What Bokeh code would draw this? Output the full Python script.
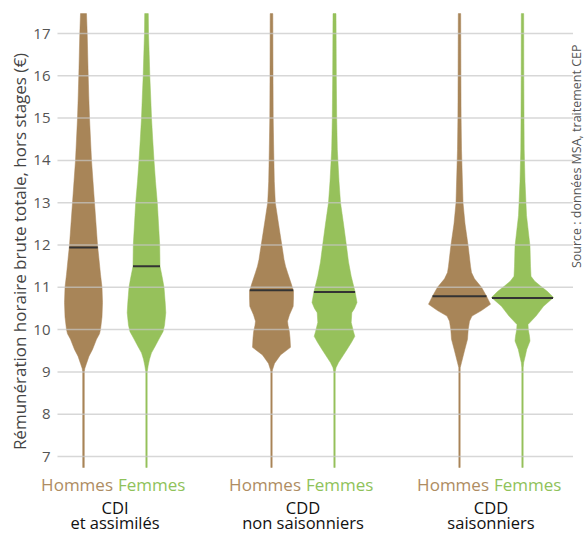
import numpy as np
from math import pi
from bokeh.plotting import figure
from bokeh.models import Range1d
from bokeh.core.properties import value
from bokeh.embed import file_html
from bokeh.resources import INLINE

# ---------------- data ----------------
group_line1 = ["CDI", "CDD", "CDD"]
group_line2 = ["et assimilés", "non saisonniers", "saisonniers"]
sexes = ["Hommes", "Femmes"]

medians_h = [11.94, 10.93, 10.79]
medians_f = [11.50, 10.89, 10.75]

# density profiles: wage levels (€) and relative density (half-width)
cdi_h_y = [6.74, 9.0, 9.08, 9.2, 9.37, 9.53, 9.77, 9.9, 10.0, 10.3, 10.64, 11.0, 11.3, 11.66, 12.0,
           12.5, 13.0, 13.5, 14.0, 14.5, 15.0, 15.5, 16.0, 16.5, 17.0, 17.47]
cdi_h_d = [0.8, 0.8, 1.3, 3, 5.5, 9, 13, 16, 17, 18.5, 19, 18.5, 17, 15.5, 14,
           12.5, 11, 9.5, 8, 7, 6, 5.3, 4.7, 4.2, 3.7, 3.0]

cdi_f_y = [6.74, 9.0, 9.15, 9.3, 9.45, 9.6, 9.8, 9.95, 10.1, 10.4, 10.64, 11.0, 11.2, 11.5, 12.0,
           12.5, 13.0, 13.5, 14.0, 14.5, 15.0, 15.5, 16.0, 16.5, 17.0, 17.47]
cdi_f_d = [0.7, 0.7, 1.7, 3, 5, 8.5, 13, 16.5, 18, 19.3, 18.7, 17.5, 16, 13.5, 13.2,
           12, 10.8, 9, 7.5, 6.2, 5, 4.2, 3.3, 2.7, 2.0, 1.8]

cddns_h_y = [6.74, 9.0, 9.05, 9.2, 9.4, 9.58, 9.8, 9.96, 10.1, 10.2, 10.35, 10.55, 10.75, 10.91,
             11.1, 11.35, 11.5, 11.66, 11.97, 12.5, 13.0, 13.5, 14.26, 15.0, 16.0, 17.47]
cddns_h_d = [0.7, 0.7, 1.0, 3, 9, 19, 18.5, 17.8, 16.5, 16, 18, 21.7, 22, 22,
             19.5, 16, 14, 12.5, 10.5, 7, 3.8, 2.8, 2.2, 1.7, 1.5, 1.3]

cddns_f_y = [6.74, 9.0, 9.1, 9.22, 9.53, 9.7, 9.84, 9.95, 10.17, 10.4, 10.5, 10.64, 10.88, 11.26,
             11.6, 11.97, 12.5, 13.0, 13.5, 14.26, 15.0, 16.0, 17.47]
cddns_f_d = [0.7, 0.7, 1.5, 4, 12.5, 17, 20.3, 19, 16.7, 17.3, 20, 22.5, 20.7, 16.7,
             14, 12, 9, 6, 4.5, 2.8, 2.2, 1.8, 1.5]

cdds_h_y = [6.74, 9.1, 9.22, 9.53, 9.77, 10.0, 10.2, 10.32, 10.45, 10.6, 10.79, 11.0, 11.2, 11.35,
            11.5, 11.97, 12.5, 13.0, 14.26, 15.0, 16.0, 17.47]
cdds_h_d = [0.7, 0.7, 2, 5.3, 8, 8.7, 10, 12.5, 22, 31, 27, 22, 15, 12,
            11, 8.7, 5.5, 3.5, 2, 1.6, 1.4, 1.2]

cdds_f_y = [6.74, 9.1, 9.22, 9.4, 9.53, 9.73, 9.84, 10.0, 10.12, 10.32, 10.55, 10.76, 10.9, 11.03,
            11.15, 11.26, 11.5, 11.97, 12.7, 13.5, 14.26, 15.0, 16.0, 17.47]
cdds_f_d = [0.7, 0.7, 1.2, 3, 4.2, 7.5, 7, 5.8, 5.5, 13.5, 21, 31, 25, 18,
            12, 8.5, 8, 7.5, 4, 2.5, 1.7, 1.5, 1.3, 1.2]

y_ticks = [7, 8, 9, 10, 11, 12, 13, 14, 15, 16, 17]
y_title = "Rémunération horaire brute totale, hors stages (€)"
source = "Source : données MSA, traitement CEP"

# ---------------- layout / styling ----------------
W, H = 586, 534
PX_X = 188.0            # pixels per group
PX_Y = 42.3             # pixels per euro
X0 = -114.5 / PX_X      # left edge of canvas in data units
Y_TOP = 17 + 33 / PX_Y  # top edge of canvas in data units
Y_AXIS_MIN = 6.74
X_GRID_L = -57.5 / PX_X
X_GRID_R = 458.0 / PX_X

COL_H = "#A88558"
COL_F = "#96C15B"
TXT_H = "#AE8C62"
TXT_F = "#8FC25A"
FONT = value("Open Sans")
DENS_SCALE = 1 / PX_X
OFFSET = 31.5 / PX_X

profiles_h = [(cdi_h_y, cdi_h_d), (cddns_h_y, cddns_h_d), (cdds_h_y, cdds_h_d)]
profiles_f = [(cdi_f_y, cdi_f_d), (cddns_f_y, cddns_f_d), (cdds_f_y, cdds_f_d)]

p = figure(width=W, height=H, output_backend="svg", toolbar_location=None,
           x_range=Range1d(X0, X0 + W / PX_X), y_range=Range1d(Y_TOP - H / PX_Y, Y_TOP),
           x_axis_location=None, y_axis_location=None, min_border=0)
p.outline_line_color = None
p.grid.visible = False
p.background_fill_color = "white"
p.border_fill_color = "white"


def violin(center, ys, ds):
    ys = np.asarray(ys, float)
    ds = np.asarray(ds, float) * DENS_SCALE
    xs = np.concatenate([center + ds, (center - ds)[::-1]])
    yy = np.concatenate([ys, ys[::-1]])
    return list(xs), list(yy)


med_x0, med_x1, med_y = [], [], []
for sign, profs, col, meds in [(-1, profiles_h, COL_H, medians_h), (1, profiles_f, COL_F, medians_f)]:
    xs_all, ys_all = [], []
    for g, (ys, ds) in enumerate(profs):
        c = g + sign * OFFSET
        xs, yy = violin(c, ys, ds)
        xs_all.append(xs)
        ys_all.append(yy)
        hw = np.interp(meds[g], ys, ds) * DENS_SCALE
        med_x0.append(c - hw)
        med_x1.append(c + hw)
        med_y.append(meds[g])
    p.patches(xs_all, ys_all, fill_color=col, line_color=col, line_width=0.5)

# horizontal grid lines drawn over the violins
p.segment(x0=[X_GRID_L] * len(y_ticks), x1=[X_GRID_R] * len(y_ticks), y0=y_ticks, y1=y_ticks,
          line_color="#c6c6c6", line_alpha=0.7, line_width=1.5)

# medians
p.segment(x0=med_x0, x1=med_x1, y0=med_y, y1=med_y, line_color="#333333", line_width=2)

# y tick labels
p.text(x=[X_GRID_L] * len(y_ticks), y=y_ticks, text=[str(t) for t in y_ticks], x_offset=-7,
       text_align="right", text_baseline="middle", text_font=FONT, text_font_size="15px",
       text_color="#555555")

# y axis title
p.text(x=[X_GRID_L], y=[17 - 218 / PX_Y], text=[y_title], x_offset=-38, angle=pi / 2,
       text_align="center", text_baseline="middle", text_font=FONT, text_font_size="17px",
       text_color="#444444")

# category labels below
gx = [0, 1, 2]
p.text(x=gx, y=[Y_AXIS_MIN - 17 / PX_Y] * 3, text=[sexes[0]] * 3, x_offset=-2,
       text_align="right", text_baseline="alphabetic", text_font=FONT, text_font_size="17px",
       text_color=TXT_H)
p.text(x=gx, y=[Y_AXIS_MIN - 17 / PX_Y] * 3, text=[sexes[1]] * 3, x_offset=3,
       text_align="left", text_baseline="alphabetic", text_font=FONT, text_font_size="17px",
       text_color=TXT_F)
p.text(x=gx, y=[Y_AXIS_MIN - 40 / PX_Y] * 3, text=group_line1, text_align="center",
       text_baseline="alphabetic", text_font=FONT, text_font_size="16.5px", text_color="#111111")
p.text(x=gx, y=[Y_AXIS_MIN - 55 / PX_Y] * 3, text=group_line2, text_align="center",
       text_baseline="alphabetic", text_font=FONT, text_font_size="16.5px", text_color="#111111")

# source
p.text(x=[X_GRID_R], y=[16.74], text=[source], x_offset=3.5, angle=pi / 2,
       text_align="right", text_baseline="middle", text_font=FONT, text_font_size="12.5px",
       text_color="#555555")

open("out.html", "w").write(file_html(p, INLINE))
